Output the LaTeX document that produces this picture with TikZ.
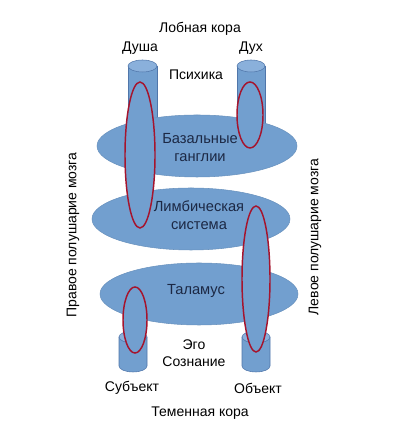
\documentclass[tikz,border=0pt]{standalone}
\usepackage{fontspec}
\setmainfont{Liberation Sans}
\usetikzlibrary{shapes.geometric}
\definecolor{lightblue}{RGB}{114,159,207}
\definecolor{topblue}{RGB}{138,176,219}
\definecolor{edgeblue}{RGB}{80,118,170}
\definecolor{darkred}{RGB}{165,20,45}
\definecolor{navy}{RGB}{28,40,68}
\tikzset{
	layer/.style={ellipse, fill=lightblue, draw=lightblue!92!black, inner sep=0pt},
	ring/.style={ellipse, fill=lightblue, draw=darkred, line width=1.1pt, inner sep=0pt},
	inner/.style={text=navy, align=center, font=\fontsize{11}{13.5}\selectfont},
	word/.style={align=center, font=\fontsize{10.5}{12.5}\selectfont},
}

\begin{document}
\begin{tikzpicture}[x=0.75pt, y=0.75pt]
	\useasboundingbox (0,0) rectangle (400,448);
	% top cylinders
	\fill[lightblue] (128,382) rectangle (157,300);
	\draw[edgeblue] (128,382) -- (128,300) (157,382) -- (157,300);
	\draw[fill=topblue, draw=edgeblue] (142.5,382) ellipse [x radius=14.5, y radius=6];
	\fill[lightblue] (237,382) rectangle (265,300);
	\draw[edgeblue] (237,382) -- (237,300) (265,382) -- (265,300);
	\draw[fill=topblue, draw=edgeblue] (251,382) ellipse [x radius=14, y radius=6];
	% bottom cylinders
	\draw[fill=lightblue, draw=edgeblue] (119,111) -- (119,82) arc (180:360:14 and 6) -- (147,111);
	\draw[fill=topblue, draw=edgeblue] (133,111) ellipse [x radius=14, y radius=6];
	\draw[fill=lightblue, draw=edgeblue] (242,111) -- (242,82) arc (180:360:14 and 6) -- (270,111);
	\draw[fill=topblue, draw=edgeblue] (256,111) ellipse [x radius=14, y radius=6];
	% layers
	\node[layer, minimum width=150pt, minimum height=46.5pt] (ganglia) at (197,302) {};
	\node[layer, minimum width=148.5pt, minimum height=46.5pt] (limbic) at (191,229) {};
	\node[layer, minimum width=148.5pt, minimum height=46.5pt] (thalamus) at (199,154) {};
	% rings
	\node[ring, minimum width=22.5pt, minimum height=109.5pt] (soul) at (140,293) {};
	\node[ring, minimum width=19.5pt, minimum height=49.5pt] (spirit) at (250,333) {};
	\node[ring, minimum width=21pt, minimum height=109.5pt] (object) at (256,169) {};
	\node[ring, minimum width=18pt, minimum height=49.5pt] (subject) at (135,128) {};
	% texts
	\node[inner] (gangliatext) at (200,300) {Базальные\\ганглии};
	\node[inner] (limbictext) at (199,233) {Лимбическая\\система};
	\node[inner] (thalamustext) at (196,157) {Таламус};
	\node[word] (frontal) at (200,419) {Лобная кора};
	\node[word] (dusha) at (140,400) {Душа};
	\node[word] (duh) at (251,400) {Дух};
	\node[word] (psyche) at (196,373) {Психика};
	\node[word] (ego) at (194,95) {Эго\\Сознание};
	\node[word] (subj) at (132,60) {Субъект};
	\node[word] (obj) at (258,60) {Объект};
	\node[word] (parietal) at (200,35) {Теменная кора};
	\node[word, rotate=90] (right) at (73,213) {Правое полушарие мозга};
	\node[word, rotate=90] (left) at (315,211) {Левое полушарие мозга};
\end{tikzpicture}
\end{document}
